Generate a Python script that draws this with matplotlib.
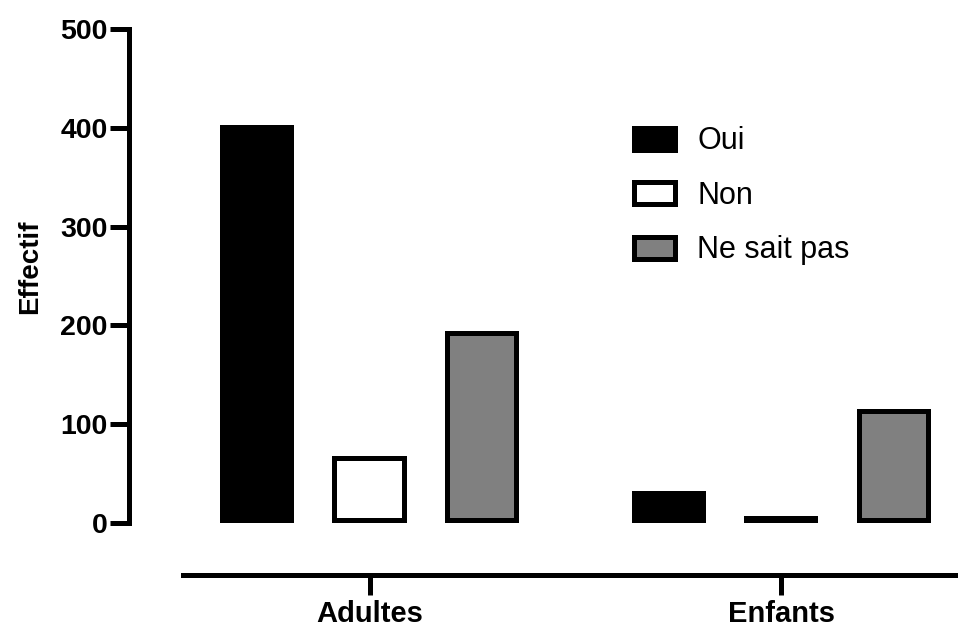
import numpy as np
import matplotlib
matplotlib.use('Agg')
import matplotlib.pyplot as plt
from matplotlib.patches import Patch

groups = ['Adultes', 'Enfants']
series = ['Oui', 'Non', 'Ne sait pas']
oui = [403, 32]
non = [68, 7]
nsp = [194, 115]
yticks = [0, 100, 200, 300, 400, 500]
ytick_labels = ['0', '100', '200', '300', '400', '500']
faces = ['black', 'white', '#808080']

plt.rcParams['font.family'] = ['Liberation Sans', 'DejaVu Sans']

fig = plt.figure(figsize=(9.58, 6.26), dpi=100)
ax = fig.add_axes([128.5 / 958, 103 / 626, 829.5 / 958, 494 / 626])

x = np.arange(len(groups))
offs = [-0.2734, 0.0, 0.2734]
w = 0.18

for vals, off, fc, name in zip([oui, non, nsp], offs, faces, series):
    bars = ax.bar(x + off, vals, w, color=fc, edgecolor='black', linewidth=7.2, label=name)
    # keep the border inside the bar, like Prism does
    for b in bars:
        b.set_clip_path(b)

ax.set_xlim(-0.5857, 1.43)
ax.set_ylim(0, 500)

for s in ['top', 'right']:
    ax.spines[s].set_visible(False)
ax.spines['left'].set_linewidth(3.6)
ax.spines['left'].set_bounds(0, 500)
ax.spines['bottom'].set_linewidth(3.6)
ax.spines['bottom'].set_position(('outward', 37.4))
ax.spines['bottom'].set_bounds(-0.454, 1.43)

ax.set_yticks(yticks, labels=ytick_labels, fontsize=20.5, fontweight='bold')
ax.set_xticks(x, labels=groups, fontsize=21, fontweight='bold')
ax.tick_params(axis='y', length=14, width=3.6, pad=1)
ax.tick_params(axis='x', length=14.4, width=3.6, pad=3.5)

ax.set_ylabel('Effectif', fontsize=20, fontweight='bold')
ax.yaxis.set_label_coords(-0.103, 0.518)

handles = [Patch(facecolor=fc, edgecolor='black', linewidth=3.6) for fc in faces]
ax.legend(handles, series, loc='upper left', bbox_to_anchor=(0.662, 0.798),
          bbox_transform=fig.transFigure, frameon=False, fontsize=22,
          handlelength=1.34, handleheight=0.72, handletextpad=0.72,
          labelspacing=0.8, borderpad=0, borderaxespad=0)

fig.savefig('out.png', dpi=100)
